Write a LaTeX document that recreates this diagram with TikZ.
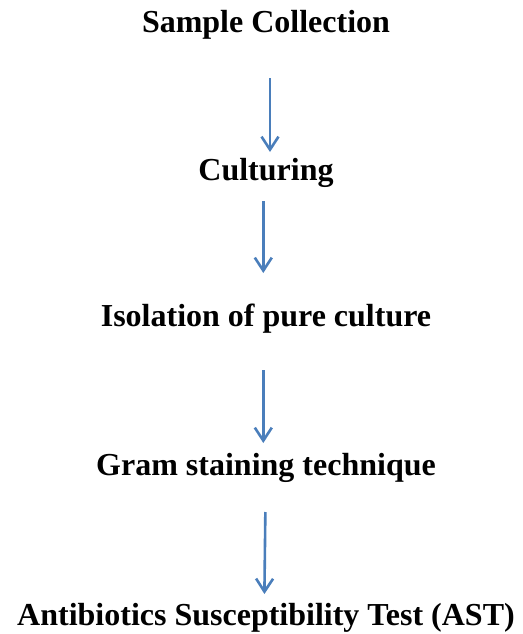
\documentclass[tikz,border=0pt]{standalone}
\usepackage{fontspec}
\setmainfont{Liberation Serif}
\usetikzlibrary{arrows.meta}
\definecolor{flowcolor}{HTML}{4A7EBB}
\tikzset{
    x={1pt},
    y={-1pt},
    step label/.style={
        font={\fontsize{32}{38}\selectfont\bfseries},
        anchor=base,
        inner sep=0pt,
        outer sep=0pt,
        text height={22pt},
        text depth={7pt},
    },
    flow arrow/.style={
        draw={flowcolor},
        line width={2.6pt},
        -{Straight Barb[length=13pt,width=17pt]},
    },
}

\begin{document}
\begin{tikzpicture}
% frame
\useasboundingbox (0,0) rectangle (522,634);
% steps
\node[step label] (sample) at (266,33) {Sample Collection};
\node[step label] (culture) at (266,180) {Culturing};
\node[step label] (isolation) at (266,326) {Isolation of pure culture};
\node[step label] (gram) at (266,475) {Gram staining technique};
\node[step label] (ast) at (266,625) {Antibiotics Susceptibility Test (AST)};
% arrows
\draw[flow arrow, shorten <={38pt}, shorten >={6pt}] ([xshift=4pt]sample.south) -- ([xshift=4pt]culture.north);
\draw[flow arrow, shorten <={14pt}, shorten >={31pt}] ([xshift=-2.7pt]culture.south) -- ([xshift=-2.7pt]isolation.north);
\draw[flow arrow, shorten <={37pt}, shorten >={10pt}] ([xshift=-2.7pt]isolation.south) -- ([xshift=-2.7pt]gram.north);
\draw[flow arrow, shorten <={30pt}, shorten >={9pt}] ([xshift=-0.3pt]gram.south) -- ([xshift=-1.7pt]ast.north);
\end{tikzpicture}
\end{document}
